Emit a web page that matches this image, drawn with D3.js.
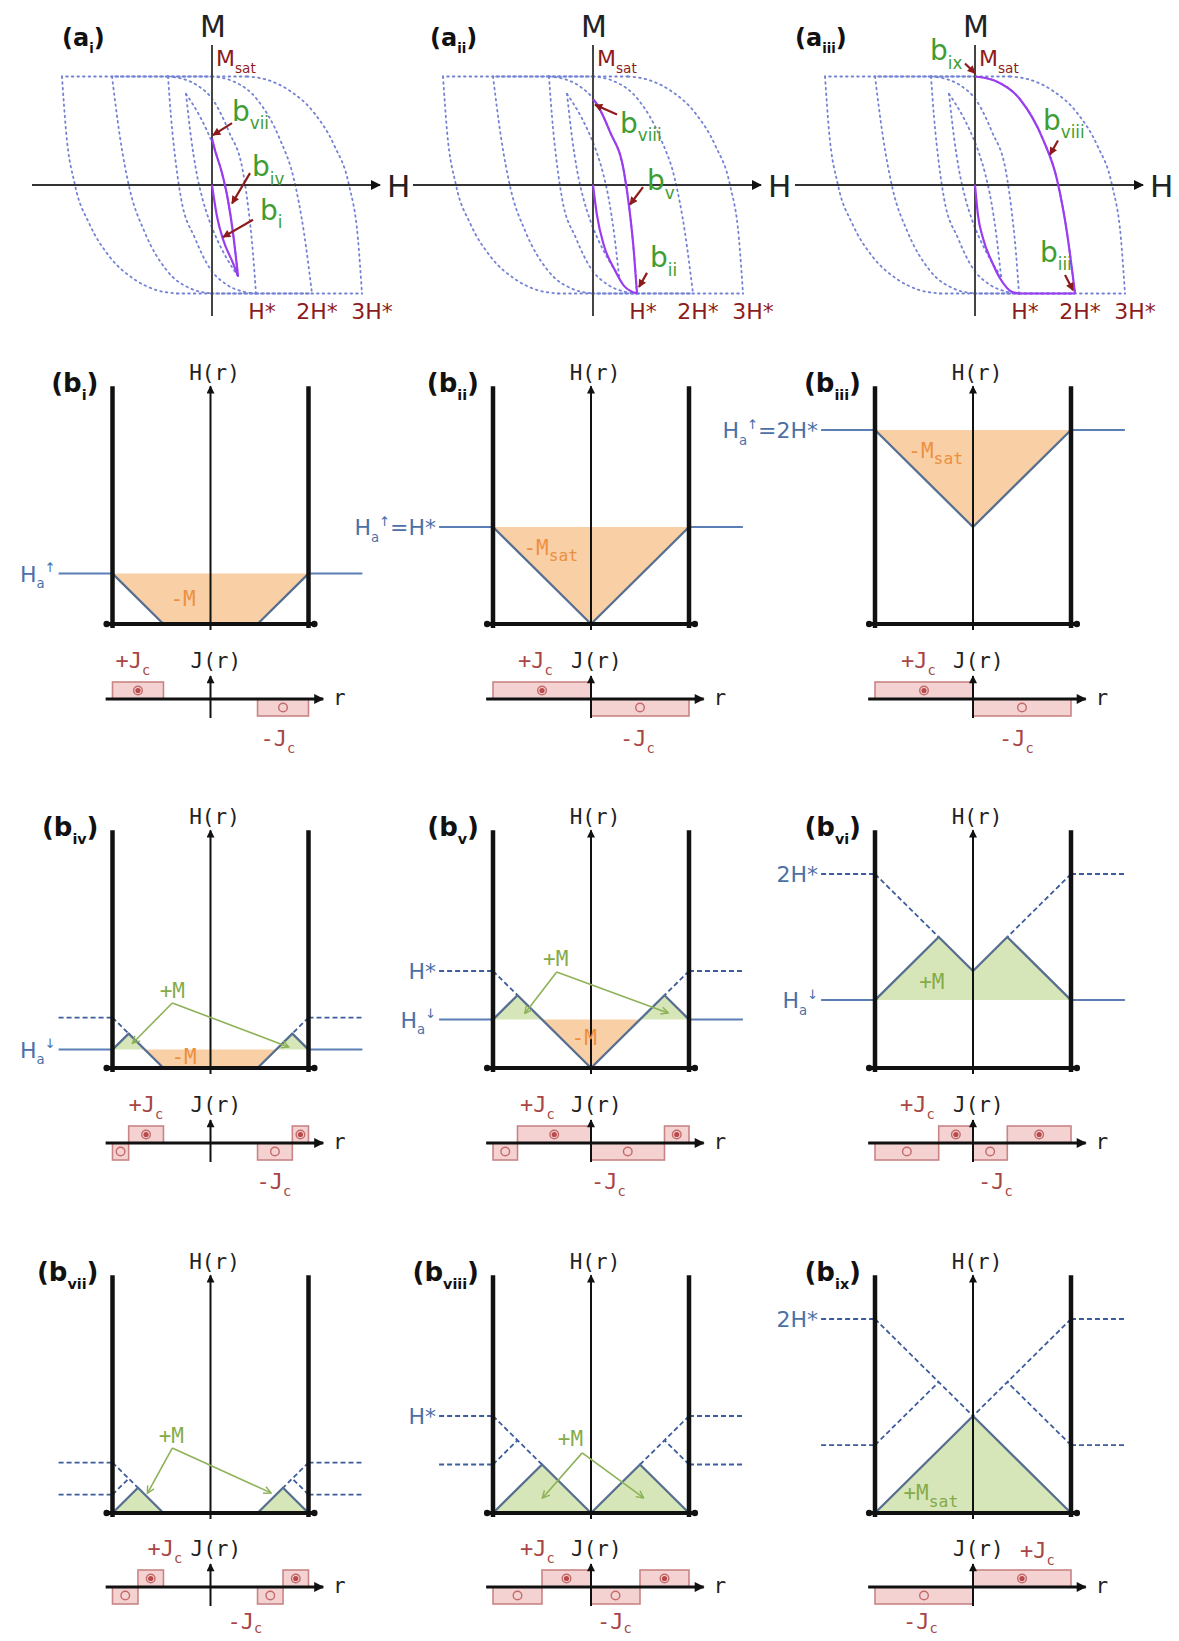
<!DOCTYPE html>
<html><head><meta charset="utf-8">
<script src="https://cdn.jsdelivr.net/npm/d3@7"></script>
<style>
html,body{margin:0;padding:0;background:#fff}
svg{display:block}
</style></head>
<body>
<svg id="fig" width="1179" height="1641"></svg>
<script>
// ================= DATA =================
// (a) M(H) loops. H in units of H*, M in units of Msat.
// Descending branches (the ascending branch is the point reflection through the origin).
const loopHm3 = [[3,-1],[2.92,-0.5],[2.74,0],[2.45,0.36],[2.05,0.66],[1.55,0.87],[1.1,0.97],[0.7,1]];
const loopHm2 = [[2,-1],[1.84,-0.44],[1.64,0.05],[1.36,0.42],[0.9,0.79],[0.4,0.96],[0,1]];
const loopHm1 = [[0.88,-1],[0.82,-0.63],[0.72,-0.19],[0.62,0.12],[0.34,0.49],[0.04,0.77],[-0.3,0.92],[-0.6,0.98],[-0.88,1]];
const loopHm05 = [[0.52,-0.84],[0.42,-0.44],[0.32,-0.14],[0.2,0.11],[0.06,0.32],[-0.1,0.5],[-0.3,0.68],[-0.52,0.84]];
const loops = [loopHm3, loopHm2, loopHm1, loopHm05];

// highlighted (purple) paths in a_i, a_ii, a_iii
const virginAi = [[0,0],[0.1,-0.29],[0.22,-0.5],[0.42,-0.72],[0.52,-0.84]];
const descAi   = [[0.52,-0.84],[0.42,-0.44],[0.32,-0.14],[0.2,0.11],[0.06,0.32],[0,0.43]];
const virginAii = [[0,0],[0.08,-0.28],[0.22,-0.56],[0.42,-0.77],[0.62,-0.93],[0.88,-1]];
const descAii   = [[0.88,-1],[0.82,-0.63],[0.72,-0.19],[0.62,0.12],[0.34,0.49],[0.04,0.77],[0,0.79]];
const virginAiii = [[0,0],[0.06,-0.28],[0.16,-0.49],[0.34,-0.71],[0.5,-0.86],[0.76,-0.99],[0.9,-1],[2,-1]];
const descAiii   = [[2,-1],[1.84,-0.44],[1.64,0.05],[1.36,0.42],[0.9,0.79],[0.4,0.96],[0,1]];
const purplePaths = [[virginAi, descAi],[virginAii, descAii],[virginAiii, descAiii]];

const tickValsA = [1, 2, 3];
const tickLabelsA = ["H*", "2H*", "3H*"];

// state markers on the loops: label, subscript, label point, arrow tail, arrow head (H, M)
const stateMarks = [
  [["b","vii",0.4,0.59,0.4,0.57,0.02,0.46],["b","iv",0.8,0.08,0.76,0.11,0.4,-0.17],["b","i",0.96,-0.32,0.82,-0.32,0.22,-0.48]],
  [["b","viii",0.54,0.48,0.48,0.65,0.04,0.74],["b","v",1.08,-0.05,1.0,-0.02,0.74,-0.18],["b","ii",1.14,-0.76,1.08,-0.81,0.92,-0.94]],
  [["b","ix",-0.9,1.15,-0.2,1.12,0,1.03],["b","viii",1.36,0.51,1.66,0.41,1.5,0.28],["b","iii",1.3,-0.71,1.8,-0.83,1.96,-0.97]]
];

// (b) field profiles. r in units of slab half-width, H in units of H*.
const bNames = ["i","ii","iii","iv","v","vi","vii","viii","ix"];
const haApplied = [0.52, 1, 2, 0.19, 0.5, 0.7, 0, 0, 0];
const haPrevious = [[], [], [], [0.52], [1], [2], [0.52, 0.19], [1, 0.5], [2, 0.7]];
const profiles = [
  [[[-1,0.52],[-0.48,0],[0.48,0],[1,0.52]]],
  [[[-1,1],[0,0],[1,1]]],
  [[[-1,2],[0,1],[1,2]]],
  [[[-1,0.19],[-0.835,0.355],[-0.48,0],[0.48,0],[0.835,0.355],[1,0.19]]],
  [[[-1,0.5],[-0.75,0.75],[0,0],[0.75,0.75],[1,0.5]]],
  [[[-1,0.7],[-0.35,1.35],[0,1],[0.35,1.35],[1,0.7]]],
  [[[-1,0],[-0.74,0.26],[-0.48,0]], [[0.48,0],[0.74,0.26],[1,0]]],
  [[[-1,0],[-0.5,0.5],[0,0],[0.5,0.5],[1,0]]],
  [[[-1,0],[0,1],[1,0]]]
];
const oldProfiles = [
  [], [], [],
  [[[-1,0.52],[-0.835,0.355]], [[1,0.52],[0.835,0.355]]],
  [[[-1,1],[-0.75,0.75]], [[1,1],[0.75,0.75]]],
  [[[-1,2],[-0.35,1.35]], [[1,2],[0.35,1.35]]],
  [[[-1,0.52],[-0.74,0.26]], [[-1,0.19],[-0.835,0.355]], [[1,0.52],[0.74,0.26]], [[1,0.19],[0.835,0.355]]],
  [[[-1,1],[-0.5,0.5]], [[-1,0.5],[-0.75,0.75]], [[1,1],[0.5,0.5]], [[1,0.5],[0.75,0.75]]],
  [[[-1,2],[0,1]], [[1,2],[0,1]], [[-1,0.7],[-0.35,1.35]], [[1,0.7],[0.35,1.35]]]
];
const fillsNeg = [
  [[[-1,0.52],[-0.48,0],[0.48,0],[1,0.52]]],
  [[[-1,1],[0,0],[1,1]]],
  [[[-1,2],[0,1],[1,2]]],
  [[[-0.67,0.19],[-0.48,0],[0.48,0],[0.67,0.19]]],
  [[[-0.5,0.5],[0,0],[0.5,0.5]]],
  [], [], [], []
];
const fillsPos = [
  [], [], [],
  [[[-1,0.19],[-0.835,0.355],[-0.67,0.19]], [[1,0.19],[0.835,0.355],[0.67,0.19]]],
  [[[-1,0.5],[-0.75,0.75],[-0.5,0.5]], [[1,0.5],[0.75,0.75],[0.5,0.5]]],
  [[[-1,0.7],[-0.35,1.35],[0,1],[0.35,1.35],[1,0.7]]],
  [[[-1,0],[-0.74,0.26],[-0.48,0]], [[1,0],[0.74,0.26],[0.48,0]]],
  [[[-1,0],[-0.5,0.5],[0,0]], [[1,0],[0.5,0.5],[0,0]]],
  [[[-1,0],[0,1],[1,0]]]
];
// current density blocks: [r0, r1, sign of Jc]
const jBlocks = [
  [[-1,-0.48,1],[0.48,1,-1]],
  [[-1,0,1],[0,1,-1]],
  [[-1,0,1],[0,1,-1]],
  [[-1,-0.835,-1],[-0.835,-0.48,1],[0.48,0.835,-1],[0.835,1,1]],
  [[-1,-0.75,-1],[-0.75,0,1],[0,0.75,-1],[0.75,1,1]],
  [[-1,-0.35,-1],[-0.35,0,1],[0,0.35,-1],[0.35,1,1]],
  [[-1,-0.74,-1],[-0.74,-0.48,1],[0.48,0.74,-1],[0.74,1,1]],
  [[-1,-0.5,-1],[-0.5,0,1],[0,0.5,-1],[0.5,1,1]],
  [[-1,0,-1],[0,1,1]]
];
// level labels (text segments) at field value h
const UP = [["H"],["a","sub"],["\u2191","sup"]];
const DN = [["H"],["a","sub"],["\u2193","sup"]];
const levelLabels = [
  [[0.52, UP]],
  [[1, UP.concat([["=H*"]])]],
  [[2, UP.concat([["=2H*"]])]],
  [[0.19, DN]],
  [[1, [["H*"]]], [0.5, DN]],
  [[2, [["2H*"]]], [0.7, DN]],
  [],
  [[1, [["H*"]]]],
  [[2, [["2H*"]]]]
];
// magnetisation labels: [segments, r, h, anchor, kind]
const mLabels = [
  [[[["-M"]], -0.28, 0.19, "middle", "neg"]],
  [[[["-M"],["sat","sub",0.78]], -0.69, 0.71, "start", "neg"]],
  [[[["-M"],["sat","sub",0.78]], -0.66, 1.71, "start", "neg"]],
  [[[["+M"]], -0.39, 0.72, "middle", "pos"], [[["-M"]], -0.27, 0.04, "middle", "neg"]],
  [[[["+M"]], -0.36, 1.05, "middle", "pos"], [[["-M"]], -0.07, 0.24, "middle", "neg"]],
  [[[["+M"]], -0.42, 0.81, "middle", "pos"]],
  [[[["+M"]], -0.40, 0.72, "middle", "pos"]],
  [[[["+M"]], -0.21, 0.69, "middle", "pos"]],
  [[[["+M"],["sat","sub",0.78]], -0.71, 0.13, "start", "pos"]]
];
// green call-outs: apex, left end, right end
const callouts = [
  null, null, null,
  [[-0.39,0.67],[-0.79,0.26],[0.79,0.22]],
  [[-0.35,0.99],[-0.67,0.57],[0.78,0.57]],
  null,
  [[-0.39,0.67],[-0.64,0.21],[0.61,0.21]],
  [[-0.09,0.62],[-0.49,0.16],[0.53,0.16]],
  null
];

// ================= LAYOUT / STYLE =================
const C = {
  blk:"#111", prof:"#566f90", ha:"#5b7fb4", dash:"#3d5c9c",
  oFill:"#f9cfa6", oText:"#ec9040", gFill:"#d6e6b9", gText:"#84ab48", gLine:"#8db257",
  jFill:"#f4d2d2", jStroke:"#c98585", jText:"#a84545", lblBlue:"#4b70a6",
  loop:"#7482d4", purple:"#9a3cf0", red:"#8e1b1b", green:"#3f9d33"
};
const SANS = "'DejaVu Sans', sans-serif";
const MONO = "'DejaVu Sans Mono', monospace";
const aCx = [212, 593, 975], aAxisY = 185, aHpx = 50, aMpx = 108.5;
const aLabelX = [62, 430, 795];
const aLabelNum = ["i","ii","iii"];
const bCx = [210.5, 591, 973], bBottom = [624, 1068, 1513], HW = 98, HS = 97;
const jOffset = [75, 75, 74], minusJdy = [47, 46, 42];
const plusJdx  = [-95, -73, -72, -82, -71, -73, -63, -71, 47];
const minusJdx = [50, 29, 26, 46, 0, 5, 17, 6, -70];

const svg = d3.select("#fig");
svg.append("rect").attr("width",1179).attr("height",1641).attr("fill","#fff");
const defs = svg.append("defs");
function marker(id, color, w, h, open) {
  const m = defs.append("marker").attr("id", id).attr("viewBox","0 0 10 10")
    .attr("refX", open ? 8 : 9).attr("refY", 5).attr("markerWidth", w).attr("markerHeight", h)
    .attr("markerUnits","userSpaceOnUse").attr("orient","auto");
  if (open) m.append("path").attr("d","M1,1L9,5L1,9").attr("fill","none").attr("stroke",color).attr("stroke-width",1.6);
  else m.append("path").attr("d","M0,0L10,5L0,10Z").attr("fill",color);
}
marker("arrK", "#111", 13, 10, false);
marker("arrKs", "#111", 9, 8, false);
marker("arrR", C.red, 9, 8, false);
marker("arrG", C.gLine, 9, 9, true);

function rich(parent, x, y, segs, o) {
  const t = parent.append("text").attr("x", x).attr("y", y)
    .attr("font-family", o.family).attr("font-size", o.size).attr("fill", o.fill)
    .attr("text-anchor", o.anchor || "start").attr("font-weight", o.weight || "normal");
  let off = 0;
  segs.forEach(s => {
    const kind = s[1] || "n";
    const sc = s[2] || 0.6;
    let target = 0, size = o.size;
    if (kind === "sub") { target = o.size * (o.subDrop || 0.3); size = o.size * sc; }
    if (kind === "sup") { target = -o.size * 0.42; size = o.size * sc; }
    t.append("tspan").attr("dy", (target - off).toFixed(2)).attr("font-size", size).text(s[0]);
    off = target;
  });
  return t;
}

// ================= (a) panels =================
aCx.forEach((cx, k) => {
  const g = svg.append("g");
  const x = d3.scaleLinear().domain([0, 1]).range([cx, cx + aHpx]);
  const y = d3.scaleLinear().domain([0, 1]).range([aAxisY, aAxisY - aMpx]);
  const line = d3.line().x(d => x(d[0])).y(d => y(d[1])).curve(d3.curveMonotoneX);
  const seg = d3.line().x(d => x(d[0])).y(d => y(d[1]));
  const sortH = p => p.slice().sort((a, b) => a[0] - b[0]);
  const dotted = s => s.attr("fill","none").attr("stroke",C.loop).attr("stroke-width",1.8)
      .attr("stroke-dasharray","1.6 4").attr("stroke-linecap","round");
  loops.forEach(L => {
    const R = L.map(([h, m]) => [-h, -m]);
    dotted(g.append("path").attr("d", line(sortH(L))));
    dotted(g.append("path").attr("d", line(sortH(R))));
    dotted(g.append("path").attr("d", seg([L[L.length - 1], R[0]])));
    dotted(g.append("path").attr("d", seg([R[R.length - 1], L[0]])));
  });
  // axes
  g.append("line").attr("x1", x(-3.6)).attr("x2", x(3.36)).attr("y1", y(0)).attr("y2", y(0))
    .attr("stroke","#333").attr("stroke-width",2).attr("marker-end","url(#arrK)");
  g.append("line").attr("x1", x(0)).attr("x2", x(0)).attr("y1", 45).attr("y2", 316)
    .attr("stroke","#444").attr("stroke-width",2);
  g.append("text").attr("x", x(0) + 1).attr("y", 37).attr("text-anchor","middle")
    .attr("font-family", SANS).attr("font-size", 30).attr("fill","#222").text("M");
  g.append("text").attr("x", x(3.5)).attr("y", aAxisY + 12).attr("font-family", SANS)
    .attr("font-size", 31).attr("fill","#222").text("H");
  rich(g, x(0) + 4, 66, [["M"],["sat","sub",0.62]], {family:SANS, size:22, fill:C.red});
  // purple paths
  purplePaths[k].forEach(p => g.append("path").attr("d", line(sortH(p))).attr("fill","none")
    .attr("stroke", C.purple).attr("stroke-width", 2.2));
  // tick labels
  tickValsA.forEach((v, i) => g.append("text").attr("x", x(v) + (v - 1) * 5).attr("y", 319)
    .attr("text-anchor","middle").attr("font-family", SANS).attr("font-size", 22).attr("fill", C.red)
    .text(tickLabelsA[i]));
  // state markers
  stateMarks[k].forEach(([b, sub, lh, lm, th, tm, hh, hm]) => {
    g.append("line").attr("x1", x(th)).attr("y1", y(tm)).attr("x2", x(hh)).attr("y2", y(hm))
      .attr("stroke", C.red).attr("stroke-width", 2.2).attr("marker-end","url(#arrR)");
    rich(g, x(lh), y(lm), [[b],[sub,"sub",0.6]], {family:SANS, size:28, fill:C.green});
  });
  // panel label
  rich(g, aLabelX[k], 46, [["(a"],[aLabelNum[k],"sub",0.55],[")"]], {family:SANS, size:24, fill:"#111", weight:"bold"});
});

// ================= (b) panels =================
bNames.forEach((name, k) => {
  const g = svg.append("g");
  const row = Math.floor(k / 3);
  const cx = bCx[k % 3], by = bBottom[row];
  const x = d3.scaleLinear().domain([-1, 1]).range([cx - HW, cx + HW]);
  const y = d3.scaleLinear().domain([0, 1]).range([by, by - HS]);
  const top = y(2.45);
  const line = d3.line().x(d => x(d[0])).y(d => y(d[1]));

  fillsNeg[k].forEach(p => g.append("path").attr("d", line(p) + "Z").attr("fill", C.oFill));
  fillsPos[k].forEach(p => g.append("path").attr("d", line(p) + "Z").attr("fill", C.gFill));

  const outside = (h, dashed) => {
    [[-1.55, -1], [1, 1.55]].forEach(([a, b]) => {
      const l = g.append("line").attr("x1", x(a)).attr("x2", x(b)).attr("y1", y(h)).attr("y2", y(h))
        .attr("stroke", dashed ? C.dash : C.ha).attr("stroke-width", dashed ? 1.8 : 2);
      if (dashed) l.attr("stroke-dasharray", "5 3");
    });
  };
  if (haApplied[k] > 0) outside(haApplied[k], false);
  haPrevious[k].forEach(h => outside(h, true));

  oldProfiles[k].forEach(p => g.append("path").attr("d", line(p)).attr("fill","none")
    .attr("stroke", C.dash).attr("stroke-width", 1.8).attr("stroke-dasharray", "5 3"));
  profiles[k].forEach(p => g.append("path").attr("d", line(p)).attr("fill","none")
    .attr("stroke", C.prof).attr("stroke-width", 2.3).attr("stroke-linejoin","round"));

  // centre axis
  g.append("line").attr("x1", cx).attr("x2", cx).attr("y1", by + 6).attr("y2", top)
    .attr("stroke", C.blk).attr("stroke-width", 2).attr("marker-end", "url(#arrKs)");
  // walls and bottom
  [-1, 1].forEach(s => g.append("line").attr("x1", x(s)).attr("x2", x(s)).attr("y1", by + 4).attr("y2", top)
    .attr("stroke", C.blk).attr("stroke-width", 4.5));
  g.append("line").attr("x1", x(-1.06)).attr("x2", x(1.06)).attr("y1", by).attr("y2", by)
    .attr("stroke", C.blk).attr("stroke-width", 4).attr("stroke-linecap","round");
  [-1.06, 1.06].forEach(s => g.append("circle").attr("cx", x(s)).attr("cy", by).attr("r", 3.2).attr("fill", C.blk));

  g.append("text").attr("x", cx + 4).attr("y", top - 6).attr("text-anchor","middle")
    .attr("font-family", MONO).attr("font-size", 21).attr("fill","#222").text("H(r)");
  rich(g, x(-1) - 14, top + 6, [["(b"],[name,"sub",0.55],[")"]], {family:SANS, size:26, fill:"#111", weight:"bold", anchor:"end"});

  levelLabels[k].forEach(([h, segs]) => rich(g, x(-1.55) - 3, y(h) + 8, segs,
    {family:SANS, size:22, fill:C.lblBlue, anchor:"end"}));

  mLabels[k].forEach(([segs, r, h, anchor, kind]) => rich(g, x(r), y(h), segs,
    {family:MONO, size:21, fill: kind === "neg" ? C.oText : C.gText, anchor}));

  if (callouts[k]) {
    const [ap, e1, e2] = callouts[k];
    [e1, e2].forEach(e => g.append("line").attr("x1", x(ap[0])).attr("y1", y(ap[1]))
      .attr("x2", x(e[0])).attr("y2", y(e[1])).attr("stroke", C.gLine).attr("stroke-width", 1.6)
      .attr("marker-end","url(#arrG)"));
  }

  // J(r) sub-plot
  const jy = by + jOffset[row];
  const jS = d3.scaleLinear().domain([-1, 1]).range([jy + 17, jy - 17]);
  jBlocks[k].forEach(([r0, r1, s]) => {
    g.append("rect").attr("x", x(r0)).attr("y", Math.min(jS(s), jS(0))).attr("width", x(r1) - x(r0))
      .attr("height", Math.abs(jS(s) - jS(0))).attr("fill", C.jFill).attr("stroke", C.jStroke).attr("stroke-width", 1.6);
    const mx = (x(r0) + x(r1)) / 2, my = (jS(s) + jS(0)) / 2;
    g.append("circle").attr("cx", mx).attr("cy", my).attr("r", 4.3).attr("fill","none")
      .attr("stroke", "#c46a6a").attr("stroke-width", 1.4);
    if (s > 0) g.append("circle").attr("cx", mx).attr("cy", my).attr("r", 2.6).attr("fill", "#b94a4a");
  });
  g.append("line").attr("x1", x(-1.07)).attr("x2", x(1.15)).attr("y1", jy).attr("y2", jy)
    .attr("stroke", C.blk).attr("stroke-width", 3.2).attr("marker-end","url(#arrK)");
  g.append("line").attr("x1", cx).attr("x2", cx).attr("y1", jy + 19).attr("y2", jy - 23)
    .attr("stroke", C.blk).attr("stroke-width", 2).attr("marker-end","url(#arrKs)");
  g.append("text").attr("x", x(1.25)).attr("y", jy + 6).attr("font-family", MONO).attr("font-size", 21)
    .attr("fill","#222").text("r");
  g.append("text").attr("x", cx - 20).attr("y", jy - 31).attr("font-family", MONO).attr("font-size", 21)
    .attr("fill","#222").text("J(r)");
  rich(g, cx + plusJdx[k], jy - (k === 8 ? 29 : 31), [["+J"],["c","sub",0.62]], {family:MONO, size:22, fill:C.jText});
  rich(g, cx + minusJdx[k], jy + minusJdy[row], [["-J"],["c","sub",0.62]],
    {family:MONO, size:22, fill:C.jText, subDrop: row === 2 ? 0.18 : 0.3});
});
</script>
</body></html>
